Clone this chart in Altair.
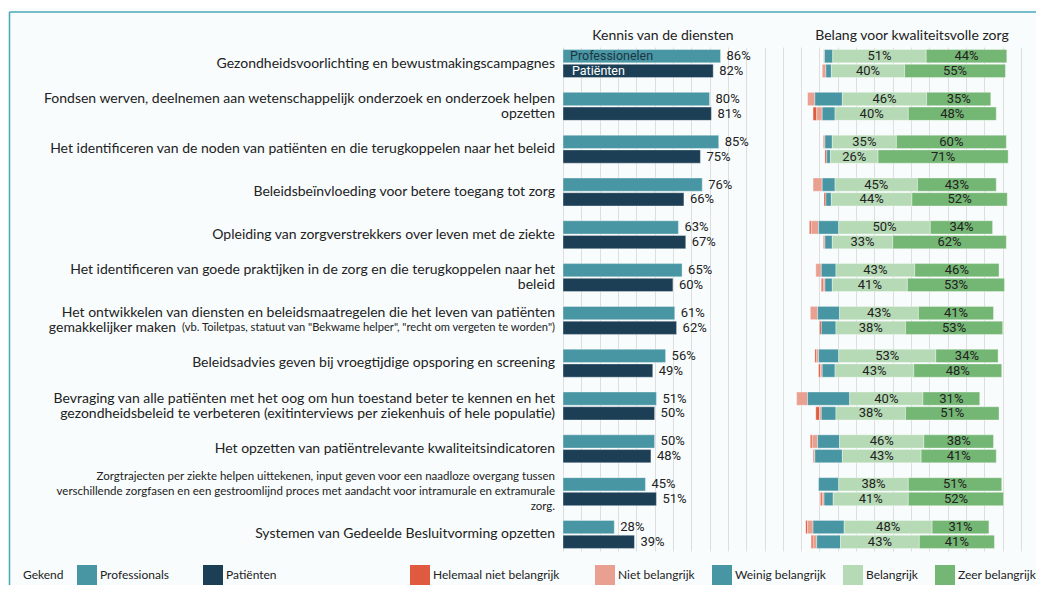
import altair as alt
import pandas as pd

# ---------------- data ----------------
categories = ["c01", "c02", "c03", "c04", "c05", "c06", "c07", "c08", "c09", "c10", "c11", "c12"]

label_lines = [
    ["Gezondheidsvoorlichting en bewustmakingscampagnes"],
    ["Fondsen werven, deelnemen aan wetenschappelijk onderzoek en onderzoek helpen", "opzetten"],
    ["Het identificeren van de noden van patiënten en die terugkoppelen naar het beleid"],
    ["Beleidsbeïnvloeding voor betere toegang tot zorg"],
    ["Opleiding van zorgverstrekkers over leven met de ziekte"],
    ["Het identificeren van goede praktijken in de zorg en die terugkoppelen naar het", "beleid"],
    ["Het ontwikkelen van diensten en beleidsmaatregelen die het leven van patiënten", "gemakkelijker maken"],
    ["Beleidsadvies geven bij vroegtijdige opsporing en screening"],
    ["Bevraging van alle patiënten met het oog om hun toestand beter te kennen en het",
     "gezondheidsbeleid te verbeteren (exitinterviews per ziekenhuis of hele populatie)"],
    ["Het opzetten van patiëntrelevante kwaliteitsindicatoren"],
    ["Zorgtrajecten per ziekte helpen uittekenen, input geven voor een naadloze overgang tussen",
     "verschillende zorgfasen en een gestroomlijnd proces met aandacht voor intramurale en extramurale",
     "zorg."],
    ["Systemen van Gedeelde Besluitvorming opzetten"],
]
note_row7 = '(vb. Toiletpas, statuut van "Bekwame helper", "recht om vergeten te worden")'
small_rows = ["c11"]

groups = ["Professionals", "Patiënten"]
inbar_text = ["Professionelen", "Patiënten"]

kennis_prof = [86, 80, 85, 76, 63, 65, 61, 56, 51, 50, 45, 28]
kennis_pat = [82, 81, 75, 66, 67, 60, 62, 49, 50, 48, 51, 39]

levels = ["Helemaal niet belangrijk", "Niet belangrijk", "Weinig belangrijk", "Belangrijk", "Zeer belangrijk"]

prof_helemaal = [0, 0, 0, 0, 1, 0, 0, 1, 0, 1, 0, 1]
prof_niet = [0.5, 4, 1, 5, 4, 3, 4, 1, 6, 3, 0, 3]
prof_weinig = [4.5, 15, 4, 7, 11, 8, 12, 11, 23, 12, 11, 17]
prof_belangrijk = [51, 46, 35, 45, 50, 43, 43, 53, 40, 46, 38, 48]
prof_zeer = [44, 35, 60, 43, 34, 46, 41, 34, 31, 38, 51, 31]

pat_helemaal = [0, 2, 1, 1, 0, 1, 1, 1, 2, 0.5, 1, 1]
pat_niet = [2, 3, 0, 0, 1, 1, 0, 1, 1, 0.5, 1, 2]
pat_weinig = [3, 7, 2, 3, 4, 4, 8, 7, 8, 15, 5, 13]
pat_belangrijk = [40, 40, 26, 44, 33, 41, 38, 43, 38, 43, 41, 43]
pat_zeer = [55, 48, 71, 52, 62, 53, 53, 48, 51, 41, 52, 41]

title_left = "Kennis van de diensten"
title_right = "Belang voor kwaliteitsvolle zorg"
legend_title = "Gekend"

# ---------------- style ----------------
prof_color = "#4896a4"
pat_color = "#1c3f56"
level_colors = ["#df5a3e", "#eaa090", "#4896a4", "#b6dab5", "#74b673"]
text_color = "#222222"
label_font = "Lato"
num_font = "Roboto"
anchor = 145  # centre of the "Weinig belangrijk" segment on the shared axis

W, H = 473, 504
X_MAX = 258.2
LINE_H = 15

# ---------------- tables ----------------
left_rows = []
for g, vals in zip(groups, [kennis_prof, kennis_pat]):
    for c, v in zip(categories, vals):
        left_rows.append(dict(cat=c, group=g, value=v, label=f"{v}%"))
df_left = pd.DataFrame(left_rows)

right_src = {
    "Professionals": [prof_helemaal, prof_niet, prof_weinig, prof_belangrijk, prof_zeer],
    "Patiënten": [pat_helemaal, pat_niet, pat_weinig, pat_belangrijk, pat_zeer],
}
right_rows = []
for g in groups:
    series = right_src[g]
    for i, c in enumerate(categories):
        vals = [s[i] for s in series]
        start = anchor - (vals[0] + vals[1] + vals[2] / 2)
        for lev, v in zip(levels, vals):
            if v > 0:
                right_rows.append(dict(
                    cat=c, group=g, level=lev, start=start, end=start + v, mid=start + v / 2,
                    label=(f"{v:.0f}%" if lev in ("Belangrijk", "Zeer belangrijk") else "")))
            start += v
df_right = pd.DataFrame(right_rows)
df_right_lab = df_right[df_right["label"] != ""]
df_right_a = df_right[df_right["level"] == levels[0]]
df_right_b = df_right[df_right["level"] != levels[0]]

lab_rows = []
for c, lines in zip(categories, label_lines):
    if c == "c07":
        continue
    lab_rows.append(dict(cat=c, text="\n".join(lines), n=len(lines),
                         fs=11.5 if c in small_rows else 14))
df_lab = pd.DataFrame(lab_rows)
df_r7a = pd.DataFrame([dict(cat="c07", text=label_lines[6][0])])
df_r7b = pd.DataFrame([dict(cat="c07", text=label_lines[6][1])])
df_r7c = pd.DataFrame([dict(cat="c07", text=note_row7)])

df_inbar = pd.DataFrame([dict(cat=categories[0], group=g, text=t) for g, t in zip(groups, inbar_text)])

# ---------------- encodings ----------------
x_scale = alt.Scale(domain=[0, X_MAX], nice=False)
x_axis = alt.Axis(values=list(range(0, 251, 10)), labels=False, ticks=False, domain=False,
                  title="", grid=True, gridColor="#dedede", gridWidth=1)


def xq(field):
    return alt.X(field, type="quantitative", scale=x_scale, axis=x_axis)


Y = alt.Y("cat:N", sort=categories, axis=None,
          scale=alt.Scale(domain=categories, paddingInner=0.346, paddingOuter=0.06))
YO = alt.YOffset("group:N", sort=groups,
                 scale=alt.Scale(domain=groups, paddingInner=0.1, paddingOuter=0))

legend_common = dict(orient="none", direction="horizontal", symbolType="square", symbolSize=400,
                     symbolStrokeWidth=0, labelFont=label_font, labelFontSize=12, labelColor=text_color,
                     labelOffset=3, padding=0, labelLimit=300, legendY=518)

left_bars = alt.Chart(df_left).mark_bar(stroke="#ffffff", strokeWidth=0.6, strokeOpacity=0.6).encode(
    x=xq("value"), y=Y, yOffset=YO,
    color=alt.Color("group:N", scale=alt.Scale(domain=groups, range=[prof_color, pat_color]),
                    legend=alt.Legend(title=legend_title, legendX=-540,
                                      titleOrient="left", titleFont=label_font, titleFontSize=12,
                                      titleFontWeight="normal", titleColor=text_color,
                                      titlePadding=13, titleAnchor="middle", titleBaseline="middle",
                                      columnPadding=34, **legend_common)),
)
left_text = alt.Chart(df_left).mark_text(align="left", baseline="middle", dx=6, font=num_font,
                                         fontSize=13, color=text_color).encode(
    x=xq("value"), y=Y, yOffset=YO, text="label:N")

bar_style = dict(stroke="#ffffff", strokeWidth=0.6, strokeOpacity=0.6)
right_bars_a = alt.Chart(df_right_a).mark_bar(**bar_style).encode(
    x=xq("start"), x2="end:Q", y=Y, yOffset=YO,
    color=alt.Color("level:N", scale=alt.Scale(domain=levels[:1], range=level_colors[:1]),
                    legend=alt.Legend(title=None, legendX=-153, **legend_common)),
)
right_bars_b = alt.Chart(df_right_b).mark_bar(**bar_style).encode(
    x=xq("start"), x2="end:Q", y=Y, yOffset=YO,
    color=alt.Color("level:N", scale=alt.Scale(domain=levels[1:], range=level_colors[1:]),
                    legend=alt.Legend(title=None, legendX=32, columnPadding=17, **legend_common)),
)
right_text = alt.Chart(df_right_lab).mark_text(align="center", baseline="middle", font=num_font,
                                               fontSize=13, color=text_color).encode(
    x=xq("mid"), y=Y, yOffset=YO, text="label:N")

label_layers = []
for n in (1, 2, 3):
    sub = df_lab[df_lab["n"] == n]
    label_layers.append(
        alt.Chart(sub).mark_text(align="right", baseline="middle", lineBreak="\n", lineHeight=LINE_H,
                                 dy=-(n - 1) * LINE_H / 2, font=label_font, color=text_color).encode(
            x=alt.value(-8), y=Y, text="text:N", size=alt.Size("fs:Q", scale=None)))

r7a = alt.Chart(df_r7a).mark_text(align="right", baseline="middle", dy=-LINE_H / 2, font=label_font,
                                  fontSize=14, color=text_color).encode(x=alt.value(-8), y=Y, text="text:N")
r7b = alt.Chart(df_r7b).mark_text(align="right", baseline="middle", dy=LINE_H / 2, font=label_font,
                                  fontSize=14, color=text_color).encode(x=alt.value(-387), y=Y, text="text:N")
r7c = alt.Chart(df_r7c).mark_text(align="right", baseline="middle", dy=LINE_H / 2 + 0.5, font=label_font,
                                  fontSize=11.15, color=text_color).encode(x=alt.value(-8), y=Y, text="text:N")

inbar_prof = alt.Chart(df_inbar[df_inbar["group"] == groups[0]]).mark_text(
    align="left", baseline="middle", font=num_font, fontSize=12.5, color="#1d3442").encode(
    x=alt.value(7), y=Y, yOffset=YO, text="text:N")
inbar_pat = alt.Chart(df_inbar[df_inbar["group"] == groups[1]]).mark_text(
    align="left", baseline="middle", font=num_font, fontSize=12.5, color="#ffffff").encode(
    x=alt.value(9), y=Y, yOffset=YO, text="text:N")

t_left = alt.Chart(pd.DataFrame({"t": [title_left]})).mark_text(
    align="center", baseline="middle", font=label_font, fontSize=14, color=text_color).encode(
    x=alt.value(100), y=alt.value(-11), text="t:N")
t_right = alt.Chart(pd.DataFrame({"t": [title_right]})).mark_text(
    align="center", baseline="middle", font=label_font, fontSize=14, color=text_color).encode(
    x=alt.value(349), y=alt.value(-11), text="t:N")

border_col = "#4aa8b9"
border_top = alt.Chart(pd.DataFrame({"a": [0]})).mark_rule(color=border_col, strokeWidth=1.5).encode(
    x=alt.value(-553.5), x2=alt.value(W), y=alt.value(-35))
border_left = alt.Chart(pd.DataFrame({"a": [0]})).mark_rule(color=border_col, strokeWidth=1.5).encode(
    x=alt.value(-553.5), y=alt.value(-35), y2=alt.value(H + 40))

chart = alt.layer(
    border_top, border_left,
    left_bars, left_text, right_bars_a, right_bars_b, right_text,
    *label_layers, r7a, r7b, r7c, inbar_prof, inbar_pat, t_left, t_right,
).resolve_scale(color="independent").properties(
    width=W, height=H,
    padding={"left": 555, "top": 39, "right": 0, "bottom": 34},
    autosize=alt.AutoSizeParams(type="none"),
    background="#f8fcfd",
).configure_view(strokeWidth=0)

chart.save("out.html", embed_options={"renderer": "svg", "actions": False})
